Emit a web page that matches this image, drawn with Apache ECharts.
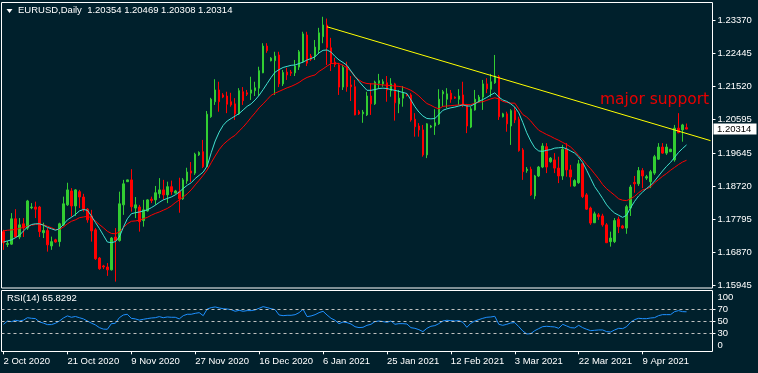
<!DOCTYPE html>
<html>
<head>
<meta charset="utf-8">
<script src="https://cdn.jsdelivr.net/npm/echarts@6/dist/echarts.min.js"></script>
<style>
html,body{margin:0;padding:0;background:#00202c;}
#chart{width:758px;height:373px;}
</style>
</head>
<body>
<div id="chart"></div>
<script>
// ---------- DATA ----------
const symbolName = 'EURUSD,Daily';
const dateLabels = ['2 Oct 2020','21 Oct 2020','9 Nov 2020','27 Nov 2020','16 Dec 2020','6 Jan 2021','25 Jan 2021','12 Feb 2021','3 Mar 2021','22 Mar 2021','9 Apr 2021'];
const barsPerDateLabel = 16;
const emptyFutureBars = 6;

// daily candles: [open, close, low, high]
const candles = [
[1.1744,1.1713,1.1693,1.1749],[1.1708,1.1711,1.1701,1.1718],[1.1709,1.1780,1.1707,1.1796],[1.1780,1.1729,1.1726,1.1807],[1.1729,1.1763,1.1723,1.1782],
[1.1766,1.1754,1.1729,1.1782],[1.1754,1.1830,1.1749,1.1833],[1.1811,1.1813,1.1807,1.1824],[1.1813,1.1807,1.1782,1.1828],[1.1813,1.1744,1.1729,1.1816],
[1.1741,1.1747,1.1726,1.1769],[1.1747,1.1707,1.1688,1.1754],[1.1704,1.1716,1.1693,1.1730],[1.1721,1.1715,1.1713,1.1724],[1.1716,1.1766,1.1702,1.1769],
[1.1763,1.1822,1.1760,1.1842],[1.1819,1.1861,1.1816,1.1881],[1.1858,1.1816,1.1786,1.1866],[1.1816,1.1861,1.1788,1.1863],[1.1856,1.1841,1.1810,1.1861],
[1.1841,1.1807,1.1800,1.1850],[1.1807,1.1777,1.1769,1.1810],[1.1788,1.1746,1.1716,1.1805],[1.1749,1.1668,1.1665,1.1754],[1.1670,1.1640,1.1637,1.1673],
[1.1648,1.1645,1.1639,1.1651],[1.1645,1.1637,1.1620,1.1656],[1.1637,1.1726,1.1635,1.1729],[1.1729,1.1719,1.1604,1.1754],[1.1719,1.1822,1.1716,1.1856],
[1.1819,1.1878,1.1791,1.1889],[1.1884,1.1889,1.1883,1.1890],[1.1889,1.1814,1.1800,1.1919],[1.1810,1.1819,1.1782,1.1841],[1.1813,1.1772,1.1744,1.1819],
[1.1775,1.1805,1.1758,1.1833],[1.1802,1.1833,1.1800,1.1835],[1.1835,1.1831,1.1824,1.1842],[1.1833,1.1853,1.1819,1.1872],[1.1850,1.1861,1.1838,1.1894],
[1.1861,1.1847,1.1833,1.1889],[1.1847,1.1870,1.1824,1.1884],[1.1870,1.1856,1.1847,1.1887],[1.1852,1.1858,1.1851,1.1861],[1.1856,1.1836,1.1797,1.1895],
[1.1836,1.1889,1.1833,1.1894],[1.1886,1.1911,1.1878,1.1923],[1.1914,1.1908,1.1883,1.1939],[1.1908,1.1961,1.1903,1.1965],[1.1959,1.1966,1.1956,1.1969],
[1.1968,1.1926,1.1922,1.2001],[1.1926,1.2073,1.1925,1.2082],[1.2066,1.2115,1.2063,1.2119],[1.2108,1.2141,1.2099,1.2171],[1.2141,1.2108,1.2080,1.2164],
[1.2127,1.2121,1.2118,1.2132],[1.2124,1.2101,1.2076,1.2136],[1.2108,1.2099,1.2094,1.2133],[1.2102,1.2074,1.2057,1.2118],[1.2074,1.2139,1.2071,1.2146],
[1.2136,1.2111,1.2099,1.2149],[1.2133,1.2129,1.2124,1.2141],[1.2132,1.2141,1.2113,1.2178],[1.2139,1.2147,1.2124,1.2164],[1.2146,1.2195,1.2124,1.2206],
[1.2189,1.2264,1.2188,1.2272],[1.2264,1.2251,1.2245,1.2272],[1.2223,1.2230,1.2221,1.2233],[1.2223,1.2236,1.2127,1.2248],[1.2239,1.2158,1.2149,1.2248],
[1.2158,1.2190,1.2152,1.2197],[1.2191,1.2183,1.2169,1.2203],[1.2191,1.2188,1.2180,1.2197],[1.2189,1.2208,1.2180,1.2225],[1.2205,1.2248,1.2197,1.2253],
[1.2220,1.2298,1.2217,1.2304],[1.2295,1.2216,1.2208,1.2304],[1.2236,1.2227,1.2222,1.2242],[1.2236,1.2261,1.2225,1.2281],[1.2253,1.2301,1.2242,1.2315],
[1.2290,1.2323,1.2272,1.2346],[1.2323,1.2260,1.2211,1.2341],[1.2259,1.2217,1.2194,1.2287],[1.2219,1.2212,1.2205,1.2231],[1.2211,1.2149,1.2127,1.2217],
[1.2149,1.2204,1.2141,1.2211],[1.2206,1.2150,1.2136,1.2220],[1.2155,1.2150,1.2110,1.2180],[1.2150,1.2071,1.2070,1.2169],[1.2080,1.2074,1.2071,1.2085],
[1.2074,1.2079,1.2049,1.2085],[1.2071,1.2124,1.2068,1.2136],[1.2124,1.2102,1.2071,1.2160],[1.2102,1.2163,1.2099,1.2167],[1.2160,1.2167,1.2146,1.2186],
[1.2158,1.2164,1.2150,1.2171],[1.2161,1.2141,1.2108,1.2180],[1.2139,1.2158,1.2122,1.2174],[1.2158,1.2105,1.2055,1.2161],[1.2102,1.2118,1.2076,1.2141],
[1.2118,1.2132,1.2094,1.2152],[1.2128,1.2125,1.2123,1.2131],[1.2127,1.2057,1.2052,1.2132],[1.2059,1.2038,1.2010,1.2076],[1.2040,1.2029,1.2010,1.2048],
[1.2029,1.1959,1.1954,1.2043],[1.1959,1.2046,1.1950,1.2048],[1.2037,1.2040,1.2034,1.2043],[1.2040,1.2049,1.2015,1.2087],[1.2046,1.2115,1.2043,1.2143],
[1.2130,1.2136,1.2094,1.2141],[1.2115,1.2130,1.2090,1.2146],[1.2132,1.2115,1.2105,1.2141],[1.2121,1.2118,1.2116,1.2123],[1.2115,1.2124,1.2099,1.2143],
[1.2127,1.2099,1.2093,1.2164],[1.2099,1.2040,1.2020,1.2102],[1.2037,1.2088,1.2034,1.2094],[1.2085,1.2115,1.2083,1.2141],[1.2108,1.2121,1.2105,1.2127],
[1.2121,1.2158,1.2085,1.2169],[1.2158,1.2144,1.2132,1.2174],[1.2143,1.2164,1.2122,1.2186],[1.2161,1.2180,1.2158,1.2239],[1.2178,1.2066,1.2057,1.2183],
[1.2066,1.2074,1.2064,1.2077],[1.2074,1.2046,1.2024,1.2080],[1.2040,1.2083,1.1987,1.2087],[1.2083,1.2057,1.2048,1.2094],[1.2059,1.1971,1.1968,1.2066],
[1.1973,1.1912,1.1889,1.1978],[1.1915,1.1919,1.1909,1.1925],[1.1919,1.1847,1.1844,1.1926],[1.1844,1.1900,1.1835,1.1903],[1.1900,1.1925,1.1897,1.1928],
[1.1925,1.1984,1.1922,1.1992],[1.1982,1.1925,1.1908,1.1992],[1.1940,1.1950,1.1937,1.1953],[1.1945,1.1922,1.1908,1.1964],[1.1922,1.1900,1.1880,1.1954],
[1.1900,1.1975,1.1889,1.1987],[1.1975,1.1917,1.1898,1.1992],[1.1917,1.1897,1.1870,1.1931],[1.1872,1.1887,1.1870,1.1891],[1.1881,1.1934,1.1878,1.1945],
[1.1934,1.1842,1.1838,1.1937],[1.1847,1.1807,1.1805,1.1852],[1.1810,1.1768,1.1763,1.1814],[1.1769,1.1794,1.1768,1.1800],[1.1791,1.1786,1.1777,1.1796],
[1.1788,1.1763,1.1758,1.1794],[1.1763,1.1713,1.1712,1.1768],[1.1716,1.1726,1.1702,1.1744],[1.1716,1.1775,1.1712,1.1782],[1.1779,1.1758,1.1740,1.1786],
[1.1760,1.1754,1.1752,1.1763],[1.1754,1.1814,1.1738,1.1819],[1.1810,1.1869,1.1788,1.1875],[1.1882,1.1878,1.1853,1.1900],[1.1878,1.1915,1.1872,1.1925],
[1.1915,1.1900,1.1866,1.1922],[1.1894,1.1898,1.1889,1.1903],[1.1884,1.1912,1.1866,1.1917],[1.1908,1.1954,1.1903,1.1959],[1.1947,1.1981,1.1945,1.1992],
[1.1981,1.1964,1.1962,1.1992],[1.1964,1.1981,1.1959,1.1990],[1.1968,1.1975,1.1967,1.1976],[1.1945,1.2034,1.1940,1.2043],[1.2034,1.2021,1.2020,1.2076],
[1.2029,1.2043,1.1996,1.2046],[1.20354,1.20314,1.20308,1.20469]
];

// fast moving average (cyan)
const maFast = [
1.1715,1.1718,1.1721,1.1727,1.1734,1.1746,1.1757,1.1764,1.1766,1.1766,
1.1762,1.1756,1.1752,1.1748,1.1752,1.1764,1.1777,1.1784,1.1792,1.1802,
1.1806,1.1804,1.1788,1.1770,1.1753,1.1734,1.1715,1.1713,1.1716,1.1729,
1.1756,1.1780,1.1794,1.1797,1.1799,1.1802,1.1805,1.1811,1.1818,1.1826,
1.1833,1.1837,1.1841,1.1847,1.1855,1.1865,1.1874,1.1881,1.1893,1.1902,
1.1911,1.1928,1.1965,1.1998,1.2023,1.2042,1.2054,1.2061,1.2068,1.2075,
1.2085,1.2095,1.2102,1.2113,1.2126,1.2142,1.2159,1.2176,1.2191,1.2198,
1.2204,1.2207,1.2210,1.2211,1.2215,1.2219,1.2225,1.2229,1.2234,1.2245,
1.2252,1.2253,1.2247,1.2235,1.2225,1.2218,1.2210,1.2194,1.2179,1.2165,
1.2152,1.2140,1.2140,1.2142,1.2145,1.2146,1.2145,1.2142,1.2140,1.2137,
1.2134,1.2131,1.2113,1.2094,1.2079,1.2068,1.2061,1.2060,1.2061,1.2072,
1.2084,1.2088,1.2091,1.2093,1.2096,1.2099,1.2096,1.2096,1.2102,1.2109,
1.2114,1.2120,1.2127,1.2133,1.2121,1.2113,1.2109,1.2102,1.2093,1.2077,
1.2050,1.2021,1.1998,1.1979,1.1970,1.1969,1.1972,1.1974,1.1978,1.1979,
1.1980,1.1976,1.1970,1.1964,1.1953,1.1938,1.1916,1.1893,1.1870,1.1854,
1.1837,1.1819,1.1806,1.1796,1.1790,1.1784,1.1790,1.1811,1.1829,1.1844,
1.1855,1.1865,1.1874,1.1886,1.1900,1.1914,1.1927,1.1938,1.1952,1.1966,
1.1977,1.1987
];

// slow moving average (red)
const maSlow = [
1.1746,1.1748,1.1749,1.1750,1.1753,1.1756,1.1759,1.1762,1.1764,1.1766,
1.1763,1.1759,1.1755,1.1750,1.1750,1.1757,1.1766,1.1773,1.1777,1.1783,
1.1785,1.1787,1.1783,1.1774,1.1764,1.1755,1.1745,1.1739,1.1738,1.1743,
1.1755,1.1766,1.1773,1.1774,1.1776,1.1780,1.1784,1.1790,1.1795,1.1799,
1.1804,1.1809,1.1816,1.1825,1.1833,1.1841,1.1850,1.1861,1.1875,1.1888,
1.1902,1.1917,1.1937,1.1956,1.1974,1.1988,1.1998,1.2007,1.2014,1.2026,
1.2037,1.2050,1.2064,1.2077,1.2091,1.2102,1.2114,1.2126,1.2132,1.2137,
1.2142,1.2147,1.2151,1.2156,1.2162,1.2170,1.2176,1.2180,1.2183,1.2193,
1.2200,1.2208,1.2215,1.2216,1.2215,1.2210,1.2203,1.2193,1.2177,1.2169,
1.2162,1.2159,1.2158,1.2158,1.2156,1.2155,1.2154,1.2153,1.2152,1.2151,
1.2149,1.2145,1.2140,1.2133,1.2124,1.2113,1.2103,1.2098,1.2092,1.2088,
1.2095,1.2096,1.2097,1.2098,1.2099,1.2101,1.2100,1.2100,1.2104,1.2107,
1.2108,1.2112,1.2116,1.2119,1.2116,1.2109,1.2106,1.2104,1.2104,1.2088,
1.2072,1.2065,1.2054,1.2040,1.2028,1.2022,1.2016,1.2011,1.2005,1.2000,
1.1994,1.1988,1.1981,1.1970,1.1957,1.1946,1.1932,1.1920,1.1906,1.1892,
1.1876,1.1864,1.1855,1.1846,1.1836,1.1832,1.1831,1.1836,1.1843,1.1853,
1.1861,1.1864,1.1869,1.1881,1.1890,1.1899,1.1907,1.1916,1.1924,1.1932,
1.1939,1.1944
];

// RSI(14)
const rsi14 = [
45,50.5,49.5,51.7,50.5,52,56,55,54.5,49,
47,44.5,44.5,46.7,50.5,55.5,59,56.7,58,56,
54,50.5,47,44,39.5,37,36.7,46,46.7,56,
60.5,61.7,55,54,52,53.3,54.5,55.5,56,57.8,
56,57.2,56.7,56.7,54,59.4,61.7,61.7,63.3,64.4,
59.4,70.5,72.8,73.9,72.2,71,70.5,69.4,66.7,68.3,
66.7,67.8,67.8,69,71.7,74.4,72.8,71,69.4,60.5,
59.4,60,60,61,64.4,70,57.8,58.9,61,64.4,
66.7,60.5,55,51.7,46,48.9,47.8,45.5,41,39.5,
40,43.3,45,49.5,50.5,49.5,48.3,50.5,45,46.1,
46.1,45.5,39.4,38.3,36.1,32.8,38.3,41.7,42.8,46.1,
50.5,51.7,51.1,50.5,51.1,48.3,40,46.7,50.5,52.8,
55,56.7,57.2,58.3,45,43.3,45,47.2,47.8,41.1,
33.9,28.9,29.4,34.4,37.8,41.1,41.7,41.1,40.6,38.3,
45,42.2,39.4,38.9,43.3,39.4,36.7,34.4,35,35.6,
35.6,32.8,32.2,35.6,38.3,37.8,41.1,48.3,52.8,55,
54.4,54.4,55.5,56.1,59.4,61.1,61.1,61.1,66.1,67.8,
66.1,65.8292
];

const priceTicks = [1.23370,1.22445,1.21520,1.20595,1.19645,1.18720,1.17795,1.16870,1.15945];
const rsiTicks = [100,70,50,30,0];
const rsiLevels = [70,50,30];
const trendStart = [81, 1.2318];   // [bar index, price]
const trendEnd = [177, 1.1999];
const annotationText = 'major support';

// ---------- CHART ----------
const FONT = "Tahoma, 'Liberation Sans', Arial, sans-serif";
const nBars = candles.length + emptyFutureBars;
const cats = Array.from({length: nBars}, (_, i) => i);
const last = candles[candles.length - 1];
const lastRsi = rsi14[rsi14.length - 1];
const headerText = symbolName + '  ' + [last[0], last[3], last[2], last[1]].map(v => v.toFixed(5)).join(' ');
const showDate = (i) => i % barsPerDateLabel === 0 && (i / barsPerDateLabel) < dateLabels.length;

const chart = echarts.init(document.getElementById('chart'), null, {renderer: 'canvas'});
chart.setOption({
  animation: false,
  backgroundColor: '#00202c',
  title: [
    {text: headerText, left: 18, top: 5, padding: 0, textStyle: {color: '#ffffff', fontSize: 9.5, fontWeight: 'normal', fontFamily: FONT}},
    {text: 'RSI(14) ' + lastRsi.toFixed(4), left: 7, top: 293, padding: 0, textStyle: {color: '#ffffff', fontSize: 9.5, fontWeight: 'normal', fontFamily: FONT}}
  ],
  graphic: [
    {type: 'polygon', shape: {points: [[6.5, 9], [12.5, 9], [9.5, 13]]}, style: {fill: '#ffffff'}, silent: true},
    {type: 'text', left: 600, top: 92, style: {text: annotationText, fill: '#e80000', font: "15.5px 'DejaVu Sans', sans-serif"}, silent: true}
  ],
  grid: [
    {left: 1.5, top: 2.5, width: 711, height: 285.5, show: true, borderColor: '#ffffff', borderWidth: 1, backgroundColor: 'transparent'},
    {left: 1.5, top: 290.5, width: 711, height: 61, show: true, borderColor: '#ffffff', borderWidth: 1, backgroundColor: 'transparent'}
  ],
  xAxis: [
    {type: 'category', gridIndex: 0, data: cats, boundaryGap: true, show: false},
    {type: 'category', gridIndex: 1, data: cats, boundaryGap: true,
     axisLine: {show: false},
     axisTick: {show: true, alignWithLabel: true, interval: (i) => showDate(i), length: 3, lineStyle: {color: '#ffffff'}},
     axisLabel: {interval: (i) => showDate(i), formatter: (v, i) => showDate(i) ? dateLabels[i / barsPerDateLabel] : '',
                 color: '#ffffff', fontSize: 9.5, fontFamily: FONT, align: 'left', margin: 5}}
  ],
  yAxis: [
    {type: 'value', gridIndex: 0, position: 'right', min: 1.15861, max: 1.23860, scale: true,
     splitLine: {show: false}, axisLine: {show: false},
     axisTick: {show: true, length: 3, lineStyle: {color: '#ffffff'}, customValues: priceTicks},
     axisLabel: {customValues: priceTicks, formatter: (v) => v.toFixed(5), color: '#ffffff', fontSize: 9.5, fontFamily: FONT, margin: 5}},
    {type: 'value', gridIndex: 1, position: 'right', min: -0.3, max: 101.3,
     splitLine: {show: false}, axisLine: {show: false},
     axisTick: {show: true, length: 3, lineStyle: {color: '#ffffff'}, customValues: rsiLevels},
     axisLabel: {customValues: rsiTicks, color: '#ffffff', fontSize: 9.5, fontFamily: FONT, margin: 5,
                 formatter: (v) => v === 100 ? '{t|100}' : (v === 0 ? '{b|0}' : '{n|' + v + '}'),
                 rich: {t: {padding: [13, 0, 0, 0], color: '#ffffff', fontSize: 9.5, fontFamily: FONT},
                        b: {padding: [0, 0, 12, 0], color: '#ffffff', fontSize: 9.5, fontFamily: FONT},
                        n: {color: '#ffffff', fontSize: 9.5, fontFamily: FONT}}}}
  ],
  series: [
    {type: 'candlestick', xAxisIndex: 0, yAxisIndex: 0, data: candles, barWidth: 2,
     itemStyle: {color: '#32cd32', color0: '#ff0000', borderColor: '#32cd32', borderColor0: '#ff0000', borderWidth: 1},
     emphasis: {disabled: true}, silent: true},
    {type: 'line', xAxisIndex: 0, yAxisIndex: 0, data: maSlow, symbol: 'none', silent: true,
     lineStyle: {color: '#ff0000', width: 1}},
    {type: 'line', xAxisIndex: 0, yAxisIndex: 0, data: maFast, symbol: 'none', silent: true,
     lineStyle: {color: '#40e0d0', width: 1}},
    {type: 'line', xAxisIndex: 0, yAxisIndex: 0, data: [trendStart, trendEnd], symbol: 'none', silent: true,
     lineStyle: {color: '#ffff00', width: 1}},
    {type: 'line', xAxisIndex: 1, yAxisIndex: 1, data: rsi14, symbol: 'none', silent: true,
     lineStyle: {color: '#1e90ff', width: 1},
     markLine: {silent: true, symbol: ['none', 'none'], animation: false, label: {show: false},
       lineStyle: {color: '#c0c0c0', type: [3, 3], width: 1},
       data: rsiLevels.map(v => ({yAxis: v}))}}
  ]
});

// current price box on the price scale, placed through the axis scale
const yLast = chart.convertToPixel({yAxisIndex: 0}, last[1]);
chart.setOption({
  graphic: [
    {type: 'polygon', shape: {points: [[6.5, 9], [12.5, 9], [9.5, 13]]}, style: {fill: '#ffffff'}, silent: true},
    {type: 'text', left: 600, top: 92, style: {text: annotationText, fill: '#e80000', font: "15.5px 'DejaVu Sans', sans-serif"}, silent: true},
    {type: 'rect', shape: {x: 713.5, y: Math.round(yLast) - 5.5, width: 43, height: 11}, style: {fill: '#ffffff'}, silent: true},
    {type: 'text', x: 717, y: Math.round(yLast), style: {text: last[1].toFixed(5), fill: '#000000', font: "9.5px Tahoma, 'Liberation Sans', Arial, sans-serif", verticalAlign: 'middle'}, silent: true}
  ]
});
</script>
</body>
</html>
